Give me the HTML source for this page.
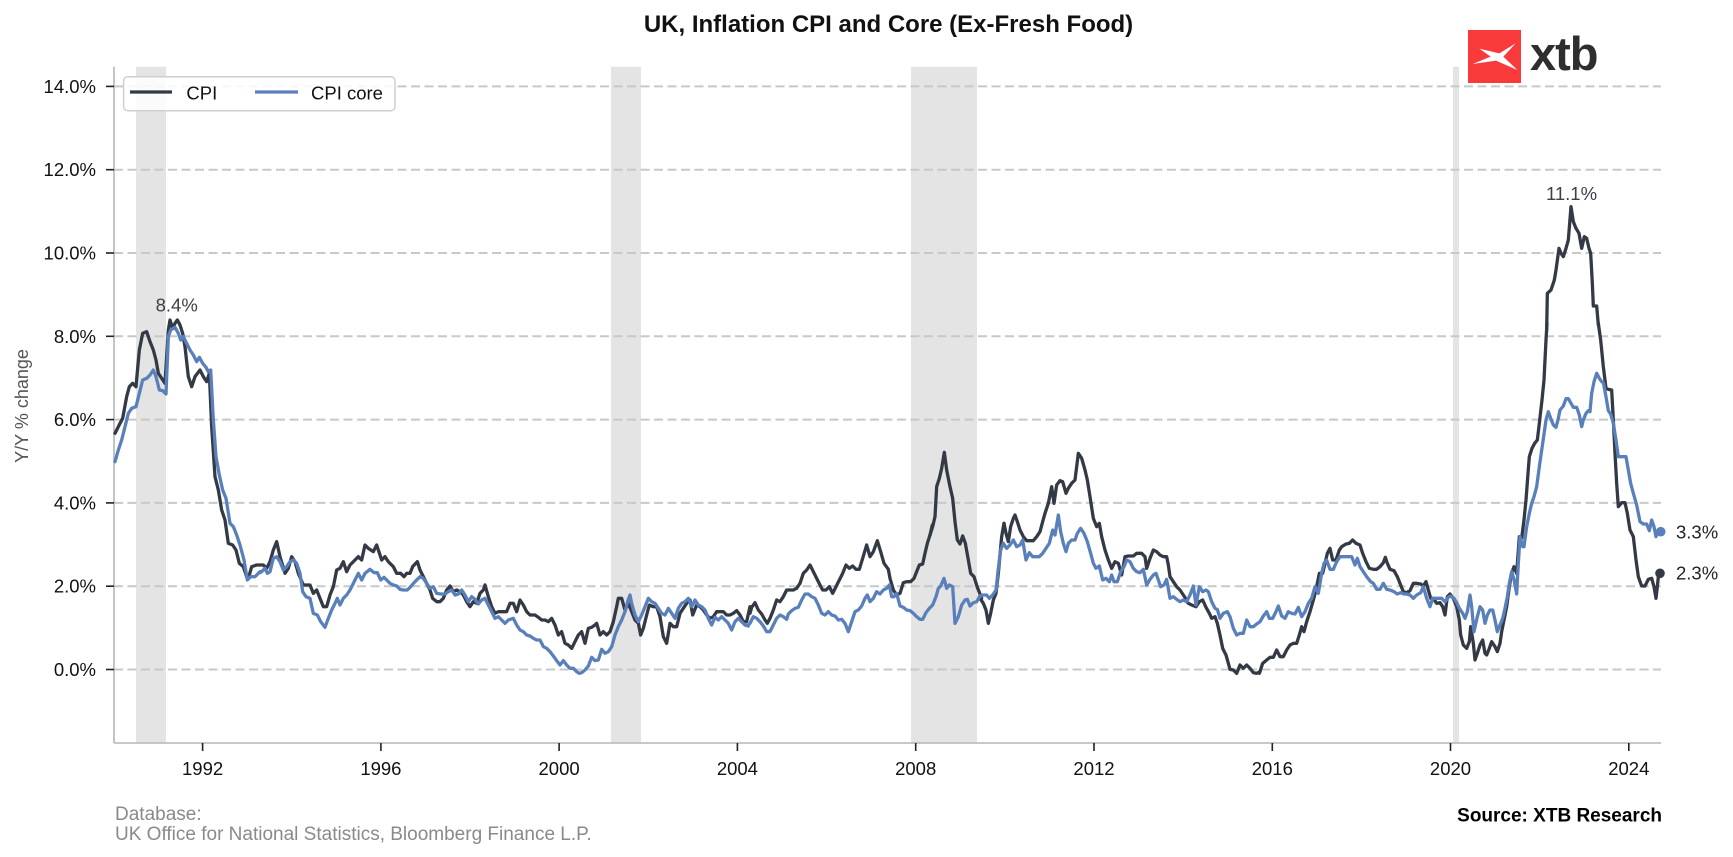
<!DOCTYPE html>
<html>
<head>
<meta charset="utf-8">
<style>
html,body{margin:0;padding:0;background:#fff;}
svg{display:block;}
text{font-family:"Liberation Sans",Arial,sans-serif;}
</style>
</head>
<body>
<svg width="1733" height="857" viewBox="0 0 1733 857" xmlns="http://www.w3.org/2000/svg">
<rect x="0" y="0" width="1733" height="857" fill="#ffffff"/>

<!-- recession bands -->
<g fill="#e4e4e4">
<rect x="136" y="66.7" width="30" height="676.3"/>
<rect x="611" y="66.7" width="30" height="676.3"/>
<rect x="911" y="66.7" width="66" height="676.3"/>
<rect x="1453" y="66.7" width="6" height="676.3"/>
</g>

<!-- gridlines -->
<g stroke="#c8c8c8" stroke-width="2" stroke-dasharray="9,4.5">
<line x1="114" y1="669.5" x2="1661" y2="669.5"/>
<line x1="114" y1="586.2" x2="1661" y2="586.2"/>
<line x1="114" y1="502.9" x2="1661" y2="502.9"/>
<line x1="114" y1="419.6" x2="1661" y2="419.6"/>
<line x1="114" y1="336.3" x2="1661" y2="336.3"/>
<line x1="114" y1="253" x2="1661" y2="253"/>
<line x1="114" y1="169.7" x2="1661" y2="169.7"/>
<line x1="114" y1="86.4" x2="1661" y2="86.4"/>
</g>

<!-- spines -->
<g stroke="#b5b5b5" stroke-width="1.6">
<line x1="114" y1="66.7" x2="114" y2="743"/>
<line x1="114" y1="743" x2="1661" y2="743"/>
</g>

<!-- y ticks -->
<g stroke="#222" stroke-width="1.6">
<line x1="106" y1="669.5" x2="114" y2="669.5"/>
<line x1="106" y1="586.2" x2="114" y2="586.2"/>
<line x1="106" y1="502.9" x2="114" y2="502.9"/>
<line x1="106" y1="419.6" x2="114" y2="419.6"/>
<line x1="106" y1="336.3" x2="114" y2="336.3"/>
<line x1="106" y1="253" x2="114" y2="253"/>
<line x1="106" y1="169.7" x2="114" y2="169.7"/>
<line x1="106" y1="86.4" x2="114" y2="86.4"/>
</g>
<g font-size="18.5" fill="#111" text-anchor="end">
<text x="96" y="676">0.0%</text>
<text x="96" y="592.7">2.0%</text>
<text x="96" y="509.4">4.0%</text>
<text x="96" y="426.1">6.0%</text>
<text x="96" y="342.8">8.0%</text>
<text x="96" y="259.5">10.0%</text>
<text x="96" y="176.2">12.0%</text>
<text x="96" y="92.9">14.0%</text>
</g>

<!-- x ticks -->
<g stroke="#222" stroke-width="1.6">
<line x1="202.6" y1="743" x2="202.6" y2="751"/>
<line x1="380.9" y1="743" x2="380.9" y2="751"/>
<line x1="559.1" y1="743" x2="559.1" y2="751"/>
<line x1="737.4" y1="743" x2="737.4" y2="751"/>
<line x1="915.7" y1="743" x2="915.7" y2="751"/>
<line x1="1094" y1="743" x2="1094" y2="751"/>
<line x1="1272.3" y1="743" x2="1272.3" y2="751"/>
<line x1="1450.5" y1="743" x2="1450.5" y2="751"/>
<line x1="1628.8" y1="743" x2="1628.8" y2="751"/>
</g>
<g font-size="18.5" fill="#111" text-anchor="middle">
<text x="202.6" y="775">1992</text>
<text x="380.9" y="775">1996</text>
<text x="559.1" y="775">2000</text>
<text x="737.4" y="775">2004</text>
<text x="915.7" y="775">2008</text>
<text x="1094" y="775">2012</text>
<text x="1272.3" y="775">2016</text>
<text x="1450.5" y="775">2020</text>
<text x="1628.8" y="775">2024</text>
</g>

<!-- y label -->
<text transform="translate(28,406) rotate(-90)" font-size="18" fill="#555" text-anchor="middle">Y/Y % change</text>

<!-- title -->
<text x="888.5" y="32" font-size="24" font-weight="bold" fill="#111" text-anchor="middle">UK, Inflation CPI and Core (Ex-Fresh Food)</text>

<!-- CPI series -->
<g fill="none" stroke="#343a45" stroke-width="3.3" stroke-linejoin="round" stroke-linecap="round">
<polyline vector-effect="non-scaling-stroke" transform="translate(100,270) scale(0.333333)" points="45,490 60,460 68,445 80,380 88,350 98,340 108,350 118,240 128,190 140,185 150,215 160,240 168,270 175,310 185,325 195,340 205,180 210,150 218,175 225,160 232,150 240,165 248,190 255,230 265,320 275,350 285,320 300,300 310,320 320,335 328,310 335,470 345,620 355,660 365,720 375,750 385,820 398,825 408,840 418,880 430,890 440,920 448,915 455,890 470,885 480,885"/>
<polyline vector-effect="non-scaling-stroke" transform="translate(230,540) scale(0.333333)" points="90,75 100,75 110,85 120,65 130,30 140,5 150,50 165,100 175,85 185,50 195,65 205,100 220,135 240,135 250,160 260,150 270,175 280,200 290,200 300,165 310,140 320,90 330,85 340,65 350,95 360,75 375,60 385,50 395,60 405,15 415,25 430,35 440,15 455,60 465,50 475,65 490,80 500,100 512,100 522,110 530,100 540,100 548,80 562,65 570,90 580,110 590,130 600,150 608,175 620,185 630,185 640,175 650,150 660,138 670,155 680,150 690,155 700,165 710,185 720,200 730,185 740,190 750,160 760,150 765,135 775,170 785,200 795,220 805,215 815,215 830,215 840,190 850,190 860,215 870,180 880,195 890,215 900,225 915,225 925,232 935,240 945,240 955,245 965,235 975,255 985,285 995,275 1005,310 1015,315 1025,325 1035,305 1045,285 1055,275 1065,310 1075,265 1085,262 1095,255 1100,250 1110,285 1120,275 1130,285 1140,275 1150,245 1160,200 1165,175 1175,175 1185,210 1195,190 1205,215 1215,240 1225,250 1232,285 1240,265 1250,225 1258,195 1270,200 1280,200 1290,230 1300,290 1310,310 1320,250 1330,260 1340,260 1350,220 1360,205 1370,190 1380,180 1388,225 1400,195 1410,200 1420,210 1430,225 1440,235 1450,230 1460,215 1470,215 1480,215 1490,225 1500,225 1510,220 1520,212 1530,225 1540,245 1550,245 1560,200"/>
<polyline vector-effect="non-scaling-stroke" transform="translate(740,520) scale(0.333333)" points="30,280 35,262 45,248 55,270 65,282 75,300 82,310 90,295 100,270 110,240 120,245 130,230 140,210 150,210 160,210 170,205 180,190 190,160 200,150 210,135 220,155 230,175 240,195 248,210 258,210 268,200 278,220 288,200 298,180 308,160 318,135 328,145 338,138 348,148 358,148 368,115 380,75 390,110 400,95 412,62 422,95 432,130 445,148 450,175 460,210 470,225 480,220 490,188 500,185 512,185 522,175 530,155 538,135 548,132 555,100 562,70 570,45 577,15"/>
<polyline vector-effect="non-scaling-stroke" transform="translate(880,390) scale(0.333333)" points="150,435 158,410 165,380 170,290 178,265 185,235 193,187 200,240 210,290 218,325 225,395 232,450 240,462 248,438 256,460 265,510 272,550 282,560 292,592 300,612 305,625"/>
<polyline vector-effect="non-scaling-stroke" transform="translate(740,520) scale(0.333333)" points="718,230 722,238 730,250 738,270 745,310 752,280 760,240 768,220 775,160 785,50 792,10"/>
<polyline vector-effect="non-scaling-stroke" transform="translate(880,390) scale(0.333333)" points="372,400 378,430 385,455 392,410 400,385 405,375 412,395 420,420 430,440 440,452 450,452 460,452 470,440 480,425 488,395 495,370 505,340 515,290 522,340 530,285 540,272 548,275 558,310 565,295 575,280 585,270 595,190 605,205 615,240 622,270 630,320 640,385 650,410 658,400 665,440 675,480 685,510 695,535 705,515 715,520 725,555 735,500 745,498 760,498 770,490 785,490 795,500 800,535 810,505 820,480 830,485 840,495 850,500 860,500 865,525 870,560 880,575 890,590 900,600 910,615 920,630"/>
<polyline vector-effect="non-scaling-stroke" transform="translate(740,520) scale(0.333333)" points="1340,245 1345,250 1355,255 1368,260 1378,245 1388,240 1398,262 1408,280 1415,295 1425,290 1432,310 1440,345 1448,385 1458,405 1465,430 1470,448 1480,450 1490,460 1500,435 1510,445 1520,435 1530,445 1540,458 1550,460 1560,455"/>
<polyline vector-effect="non-scaling-stroke" transform="translate(1250,320) scale(0.333333)" points="28,1060 38,1030 50,1020 60,1012 70,1012 80,990 90,1010 100,1010 110,990 120,975 130,970 140,970 148,945 155,920 162,935 170,905 180,875 190,840 198,810 208,760 218,760 225,730 232,700 240,685 248,720 258,720 268,690 275,680 288,672 298,670 308,660 318,670 330,675 338,700 348,725 358,745 370,748 380,748 390,740 400,728 406,712 412,730 420,748 432,752 442,770 450,790 460,815 470,818 480,812 490,790 500,790 512,792 520,798 528,785 535,810 542,835 550,835 560,850 570,848 578,860 585,885 592,830 600,822 610,835 620,860 628,900 632,945 640,975 650,985 658,965 662,920 670,970 675,1020 682,1000 690,975 698,960 705,1000 710,1005 718,985 725,965 735,980 742,995 750,970 755,935 762,900 770,860 778,800 785,760 792,740 800,760 808,650 815,655 822,600 828,540 834,460 838,410 846,385 854,370 862,360 868,310 876,240 882,180 888,60 891,10"/>
<polyline vector-effect="non-scaling-stroke" transform="translate(1250,0) scale(0.333333)" points="890,990 892,880 903,870 913,840 918,810 927,745 933,760 940,770 948,745 955,720 963,620 970,665 978,685 987,700 995,745 1003,710 1010,715 1017,745 1022,760 1027,850 1030,918 1040,918 1045,975"/>
<polyline vector-effect="non-scaling-stroke" transform="translate(1250,320) scale(0.333333)" points="1045,10 1052,60 1060,140 1068,205 1075,208 1085,210 1090,300 1095,400 1100,490 1105,560 1115,548 1125,548 1132,580 1140,630 1150,650 1158,720 1165,770 1175,798 1185,798 1195,778 1205,775 1212,800 1218,835 1222,800 1225,770 1230,760"/>
</g>

<!-- CPI core series -->
<g fill="none" stroke="#5a80bb" stroke-width="3.3" stroke-linejoin="round" stroke-linecap="round">
<polyline vector-effect="non-scaling-stroke" transform="translate(100,270) scale(0.333333)" points="45,575 55,540 65,510 75,470 85,430 95,415 108,410 118,370 128,330 140,325 150,315 160,300 168,320 178,360 188,362 198,372 205,200 212,180 225,172 235,190 242,210 250,200 260,220 270,240 280,255 290,275 298,262 308,280 318,292 325,305 332,300 340,450 348,560 358,615 368,660 378,685 390,760 400,770 410,795 420,825 432,870 442,930 452,920 465,920 480,905"/>
<polyline vector-effect="non-scaling-stroke" transform="translate(230,540) scale(0.333333)" points="90,98 95,95 105,85 112,100 120,95 130,55 140,50 150,65 160,90 170,80 180,65 190,60 200,70 210,100 218,155 228,170 240,175 250,220 262,225 272,245 285,262 295,235 305,210 315,190 322,175 330,195 340,175 350,165 360,150 370,130 380,110 385,100 395,120 405,100 420,88 432,98 442,98 452,120 462,112 470,120 480,130 490,135 500,138 510,148 520,150 532,150 542,140 552,128 562,118 570,110 580,115 590,130 600,145 610,140 620,160 632,162 645,162 655,155 665,150 675,165 685,162 695,150 705,165 715,185 725,170 735,178 745,192 755,180 765,175 775,195 785,215 795,235 805,230 815,240 825,250 835,240 850,235 860,255 870,270 880,275 890,285 900,288 910,295 920,300 930,300 940,320 950,325 960,335 970,348 980,362 990,375 1000,362 1010,375 1020,385 1030,385 1040,395 1048,400 1055,398 1065,390 1075,378 1085,352 1095,362 1105,360 1115,328 1125,340 1135,335 1145,320 1155,285 1165,260 1175,240 1185,215 1195,178 1200,165 1205,190 1215,225 1225,245 1235,225 1245,200 1255,175 1265,185 1275,190 1285,205 1295,220 1305,225 1315,205 1325,220 1335,235 1345,205 1355,190 1365,185 1375,175 1385,200 1395,180 1405,195 1415,200 1425,210 1435,235 1445,255 1455,232 1465,240 1475,230 1485,240 1495,250 1505,270 1515,245 1525,235 1535,245 1545,255 1555,258"/>
<polyline vector-effect="non-scaling-stroke" transform="translate(740,520) scale(0.333333)" points="25,315 30,310 40,290 50,295 60,305 70,318 80,335 90,335 100,315 110,295 120,285 130,290 140,298 145,282 155,272 165,265 175,262 185,240 195,222 205,222 215,230 225,235 235,255 245,280 255,285 265,275 275,285 285,288 295,300 305,298 315,310 325,335 335,305 345,275 355,270 365,258 375,235 382,225 390,245 400,235 410,215 420,222 430,210 440,205 448,195 455,230 462,230 470,220 480,258 490,262 500,270 510,272 520,280 530,290 540,298 548,298 558,278 568,265 578,255 588,230 595,205 602,198 612,175 620,205 628,195 638,200 645,310 655,290 665,255 675,240 682,238 690,258 700,248 710,245 720,228 730,225 740,225 748,235 758,225 768,210 775,145 782,90 790,70 800,85 810,75 820,60 830,80 840,75 848,60 858,120 868,98 878,110 888,110 898,110 908,100 918,85 928,70 938,30 945,45 955,-15 962,35 970,70 978,95 985,70 995,60 1005,60 1012,40 1022,25 1032,40 1042,65 1052,100 1060,130 1068,145 1078,138 1088,180 1098,175 1108,185 1115,165 1122,185 1132,185 1142,155 1152,140 1160,120 1170,125 1180,145 1190,155 1200,158 1210,148 1220,195 1230,178 1240,165 1248,160 1255,180 1262,200 1272,195 1280,178 1290,235 1300,230 1310,238 1320,245 1330,240 1340,245 1350,225 1360,198 1368,255 1378,200 1388,215 1398,210 1405,215 1415,245 1425,265 1432,268 1440,295 1450,280 1462,275 1470,290 1480,325 1490,345 1500,340 1510,340 1520,300 1530,320 1540,320 1550,312 1560,305"/>
<polyline vector-effect="non-scaling-stroke" transform="translate(1250,320) scale(0.333333)" points="30,905 40,888 50,875 58,895 68,895 78,875 85,858 95,888 105,895 115,875 125,880 135,882 145,862 155,890 165,875 175,850 185,835 195,800 205,820 215,760 222,730 230,720 240,748 250,748 260,725 270,710 280,710 295,710 305,710 315,735 322,715 330,740 340,755 350,770 362,785 370,790 380,808 390,808 400,790 410,808 420,810 432,815 442,822 452,818 462,822 470,822 480,825 490,835 500,825 512,818 520,800 530,835 540,860 548,835 555,835 565,835 575,835 585,845 595,832 602,828 612,835 620,848 628,865 638,880 645,895 652,875 660,825 665,860 672,935 682,890 690,860 698,870 705,910 712,885 720,870 728,870 735,900 742,935 750,915 758,895 765,865 772,830 778,790 785,755 792,778 800,822 805,730 810,650 818,680 822,680 830,620 838,580 845,550 852,530 860,500 868,440 878,370 888,300 895,275 902,295 910,315 918,322 925,295 930,270 940,258 948,236 955,236 962,248 970,262 980,262 988,285 995,320 1000,300 1008,280 1015,272 1020,275 1025,220 1032,185 1040,160 1048,175 1055,185 1060,188 1068,230 1075,272 1082,282 1090,310 1098,360 1105,410 1115,410 1128,410 1135,450 1142,490 1150,520 1160,555 1170,605 1180,612 1190,612 1198,632 1205,600 1212,620 1218,650 1225,632 1232,635"/>
</g>

<!-- end dots -->
<circle cx="1660.7" cy="531.7" r="4.8" fill="#5a80bb"/>
<circle cx="1660" cy="573.3" r="4.8" fill="#343a45"/>

<!-- annotations -->
<g font-size="18.5">
<text x="176.7" y="311.5" fill="#3c404a" text-anchor="middle">8.4%</text>
<text x="1571.5" y="200" fill="#3c404a" text-anchor="middle">11.1%</text>
<text x="1676" y="538.5" fill="#222">3.3%</text>
<text x="1676" y="579.5" fill="#222">2.3%</text>
</g>

<!-- legend -->
<rect x="123.6" y="76.7" width="271.4" height="34" rx="4" ry="4" fill="#ffffff" fill-opacity="0.85" stroke="#cfcfcf" stroke-width="1.5"/>
<line x1="130" y1="92" x2="172" y2="92" stroke="#343a45" stroke-width="3.3"/>
<text x="186.4" y="99.3" font-size="18.5" fill="#111">CPI</text>
<line x1="255" y1="92" x2="298" y2="92" stroke="#5a80bb" stroke-width="3.3"/>
<text x="311" y="99.3" font-size="18.5" fill="#111">CPI core</text>

<!-- logo -->
<rect x="1468" y="30" width="53" height="53" fill="#f93a3a"/>
<g transform="translate(1250,0) scale(0.333333)" fill="#ffffff">
<path d="M 797,130 L 748,160 L 688,146 L 722,170 L 668,192 L 738,182 L 802,210 L 760,170 Z"/>
</g>
<text x="1530" y="70" font-size="47" font-weight="bold" fill="#2e2e2e" letter-spacing="-1">xtb</text>

<!-- footer -->
<g font-size="19">
<text x="115" y="820" fill="#8a8a8a">Database:</text>
<text x="115" y="840" fill="#8a8a8a">UK Office for National Statistics, Bloomberg Finance L.P.</text>
<text x="1662" y="821.5" fill="#000" font-weight="bold" text-anchor="end">Source: XTB Research</text>
</g>
</svg>
</body>
</html>
